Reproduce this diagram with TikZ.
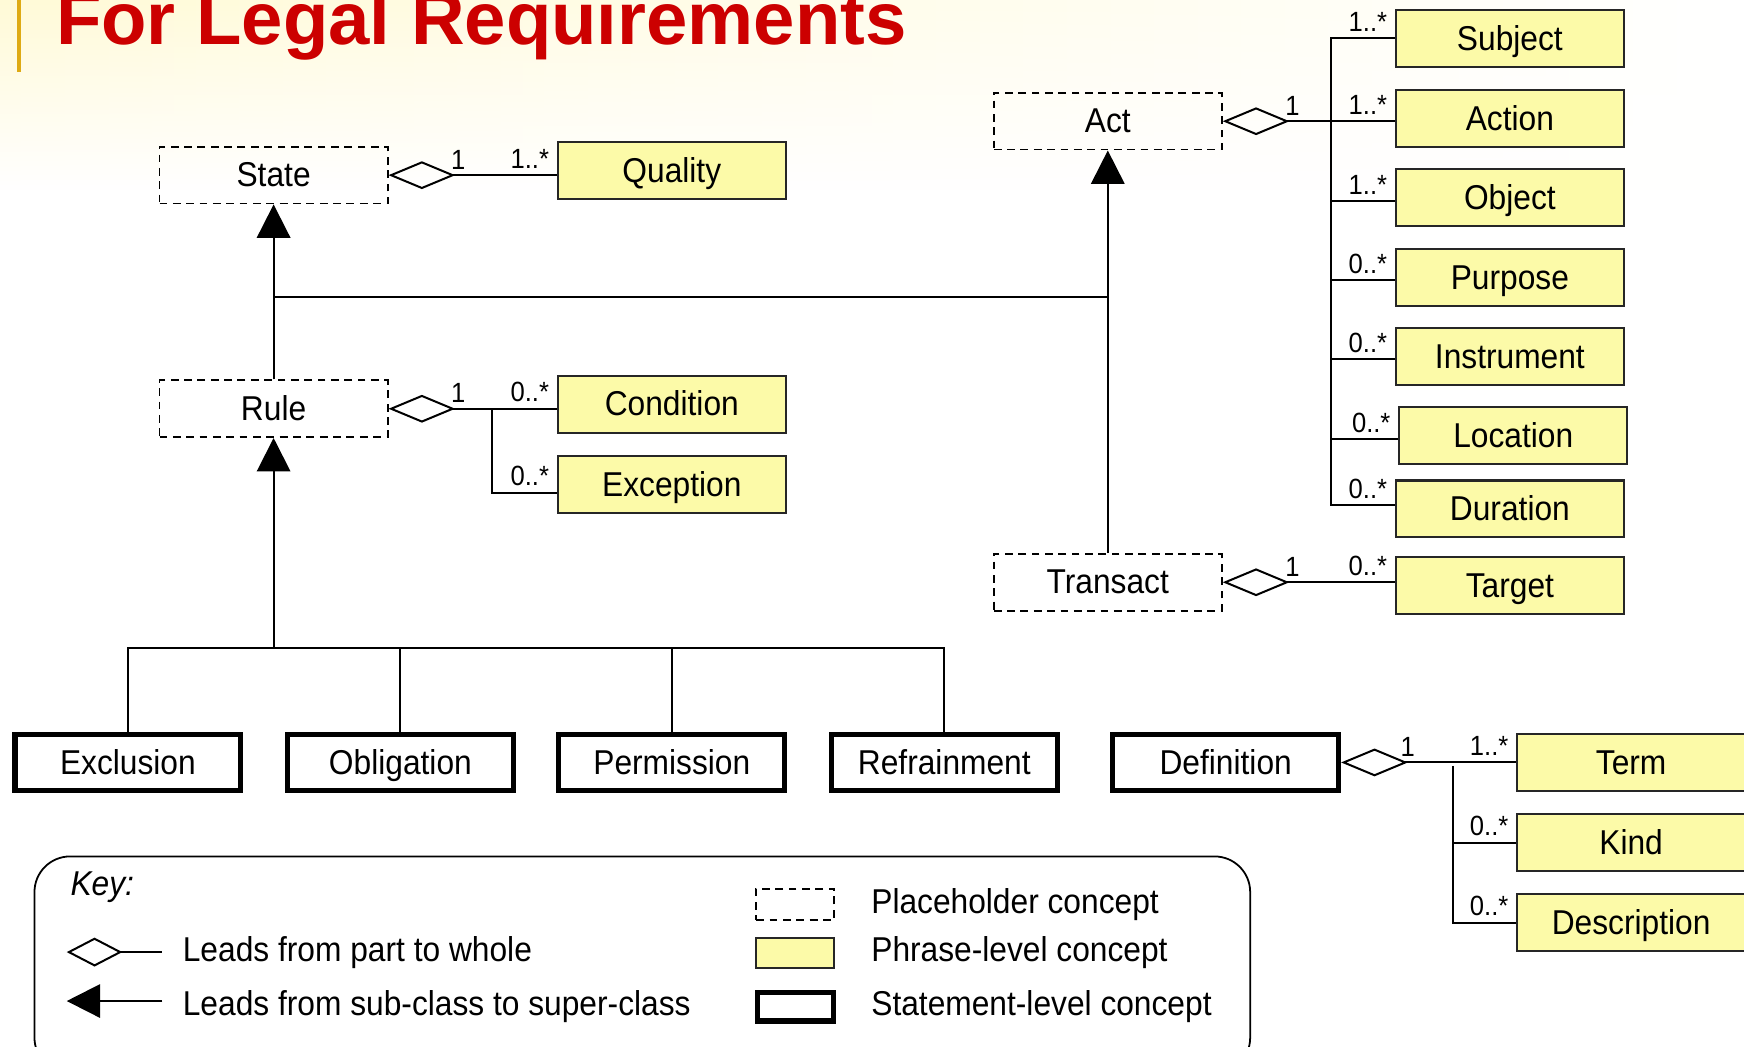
\documentclass[tikz,border=0pt]{standalone}
\usepackage{fontspec}
\setmainfont{Liberation Sans}[FakeStretch=0.92]
\newfontfamily\titlefont{Liberation Sans}
\usetikzlibrary{arrows.meta,calc,fadings}
\definecolor{phrase}{RGB}{252,250,168}
\definecolor{titlered}{RGB}{204,0,0}
\definecolor{goldbar}{RGB}{222,170,20}
\definecolor{cream}{RGB}{255,250,215}
\begin{document}
\begin{tikzpicture}[x=0.5pt,y=-0.5pt,
  base/.style={minimum width=102.5pt,minimum height=25.5pt,inner sep=0pt,text height=11pt,text depth=0.5pt,font=\fontsize{15.5}{18}\selectfont},
  holder/.style={base,draw,line width=0.8pt,dash pattern=on 3.5pt off 2.5pt},
  phr/.style={base,draw=black!85,line width=1pt,fill=phrase},
  stmt/.style={base,draw,line width=2.3pt,minimum width=101.5pt,minimum height=25.2pt,fill=white},
  mult/.style={inner sep=0pt,font=\fontsize{12.5}{14}\selectfont},
  conn/.style={draw,line width=0.9pt},
  agg/.style={conn,{Diamond[open,length=30pt,width=12.5pt]}-},
  inh/.style={conn,-{Triangle[length=15pt,width=15pt]}},
  ml/.style={mult,pos=0,anchor=south east,xshift=-3pt,yshift=2.5pt},
  one/.style={mult,anchor=south west},
  keytext/.style={anchor=west,inner sep=0pt,font=\fontsize{15.5}{18}\selectfont}
]
\useasboundingbox (0,0) rectangle (1568,941);
\clip (0,0) rectangle (1568,941);
\fill[white] (0,0) rectangle (1568,941);
\shade[left color=cream,right color=white,path fading=south] (0,0) rectangle (1568,170);

% title
\fill[goldbar] (15,0) rectangle (19,65);
\node[anchor=base west,inner sep=0pt,text=titlered,font={\titlefont\bfseries\fontsize{33.4}{40}\selectfont}] (title) at (50,40) {For Legal Requirements};

% placeholder concepts
\node[holder] (State) at (246,157.5) {State};
\node[holder] (Rule) at (246,367.5) {Rule};
\node[holder] (Act) at (996,109) {Act};
\node[holder] (Transact) at (996,523.5) {Transact};

% phrase-level concepts
\node[phr] (Quality) at (604,153.5) {Quality};
\node[phr] (Condition) at (604,363.5) {Condition};
\node[phr] (Exception) at (604,435.5) {Exception};
\node[phr] (Subject) at (1357.5,34.5) {Subject};
\node[phr] (Action) at (1357.5,106.5) {Action};
\node[phr] (Object) at (1357.5,177.5) {Object};
\node[phr] (Purpose) at (1357.5,249.5) {Purpose};
\node[phr] (Instrument) at (1357.5,320.5) {Instrument};
\node[phr] (Location) at (1360.5,391.5) {Location};
\node[phr] (Duration) at (1357.5,457.5) {Duration};
\node[phr] (Target) at (1357.5,526.5) {Target};
\node[phr] (Term) at (1466.5,685.5) {Term};
\node[phr] (Kind) at (1466.5,757.5) {Kind};
\node[phr] (Description) at (1466.5,829.5) {Description};

% statement-level concepts
\node[stmt] (Exclusion) at (115,685.5) {Exclusion};
\node[stmt] (Obligation) at (360,685.5) {Obligation};
\node[stmt] (Permission) at (604,685.5) {Permission};
\node[stmt] (Refrainment) at (849,685.5) {Refrainment};
\node[stmt] (Definition) at (1102,685.5) {Definition};

% helper coordinates
\coordinate (jy) at (0,267);
\coordinate (sy) at (0,583);
\coordinate (rbx) at (442,0);
\coordinate (abx) at (1197,0);
\coordinate (dbx) at (1306,0);

% inheritance
\draw[inh] (Rule.north) -- (State.south);
\draw[inh] (Transact.north) -- (Act.south);
\draw[conn] (State.south |- jy) -- (Act.south |- jy);
\draw[inh] (Rule.south |- sy) -- (Rule.south);
\draw[conn] (Exclusion.north) |- (Refrainment.north |- sy) -- (Refrainment.north);
\draw[conn] (Obligation.north) -- (Obligation.north |- sy);
\draw[conn] (Permission.north) -- (Permission.north |- sy);

% State - Quality
\draw[agg] (State.east) -- (State.east -| Quality.west) node[ml,pos=1] {1..*};
\node[one] at ($(State.east)+(56,-5)$) {1};

% Rule - Condition / Exception
\draw[agg] (Rule.east) -- (Rule.east -| Condition.west) node[ml,pos=1] {0..*};
\node[one] at ($(Rule.east)+(56,-5)$) {1};
\draw[conn] (Rule.east -| rbx) |- ($(Exception.west)+(0,7.5)$) node[ml,pos=1] {0..*};

% Act - parts
\draw[agg] (Act.east) -- (Act.east -| Action.west) node[ml,pos=1] {1..*};
\node[one] at ($(Act.east)+(56,-5)$) {1};
\draw[conn] (Subject.west) -| ($(Duration.west -| abx)+(0,-3.5)$) -- ($(Duration.west)+(0,-3.5)$) node[ml,pos=1] {0..*};
\draw[conn] (Subject.west) -- (Subject.west -| abx) node[ml] {1..*};
\draw[conn] ($(Object.west)+(0,3)$) -- ($(Object.west -| abx)+(0,3)$) node[ml] {1..*};
\draw[conn] ($(Purpose.west)+(0,2.5)$) -- ($(Purpose.west -| abx)+(0,2.5)$) node[ml] {0..*};
\draw[conn] ($(Instrument.west)+(0,2.5)$) -- ($(Instrument.west -| abx)+(0,2.5)$) node[ml] {0..*};
\draw[conn] ($(Location.west)+(0,3.5)$) -- ($(Location.west -| abx)+(0,3.5)$) node[ml] {0..*};

% Transact - Target
\draw[agg] (Transact.east) -- (Transact.east -| Target.west) node[ml,pos=1] {0..*};
\node[one] at ($(Transact.east)+(56,-5)$) {1};

% Definition - parts
\draw[agg] (Definition.east) -- (Definition.east -| Term.west) node[ml,pos=1] {1..*};
\node[one] at ($(Definition.east)+(53,-5)$) {1};
\draw[conn] ($(Definition.east -| dbx)+(0,3)$) |- (Description.west) node[ml,pos=1] {0..*};
\draw[conn] (Kind.west) -- (Kind.west -| dbx) node[ml] {0..*};

% key
\draw[line width=0.8pt,rounded corners=16pt] (31,770) rectangle (1124,965);
\node[keytext,font={\fontsize{15.5}{18}\selectfont\itshape}] (key) at (63,798) {Key:};
\coordinate (ld1) at (60,856);
\coordinate (ld2) at (146,856);
\draw[conn,{Diamond[open,length=25pt,width=13pt]}-] (ld1) -- (ld2);
\node[keytext] (l1) at (164,856) {Leads from part to whole};
\coordinate (la1) at (60,900);
\coordinate (la2) at (146,900);
\draw[inh] (la2) -- (la1);
\node[keytext] (l2) at (164,905) {Leads from sub-class to super-class};
\node[holder,minimum width=35pt,minimum height=14pt] (k1) at (715,813) {};
\node[phr,minimum width=35pt,minimum height=13.5pt] (k2) at (715,857) {};
\node[stmt,minimum width=34pt,minimum height=13pt] (k3) at (715,905) {};
\node[keytext] (t1) at (783,813) {Placeholder concept};
\node[keytext] (t2) at (783,856) {Phrase-level concept};
\node[keytext] (t3) at (783,905) {Statement-level concept};
\end{tikzpicture}
\end{document}
